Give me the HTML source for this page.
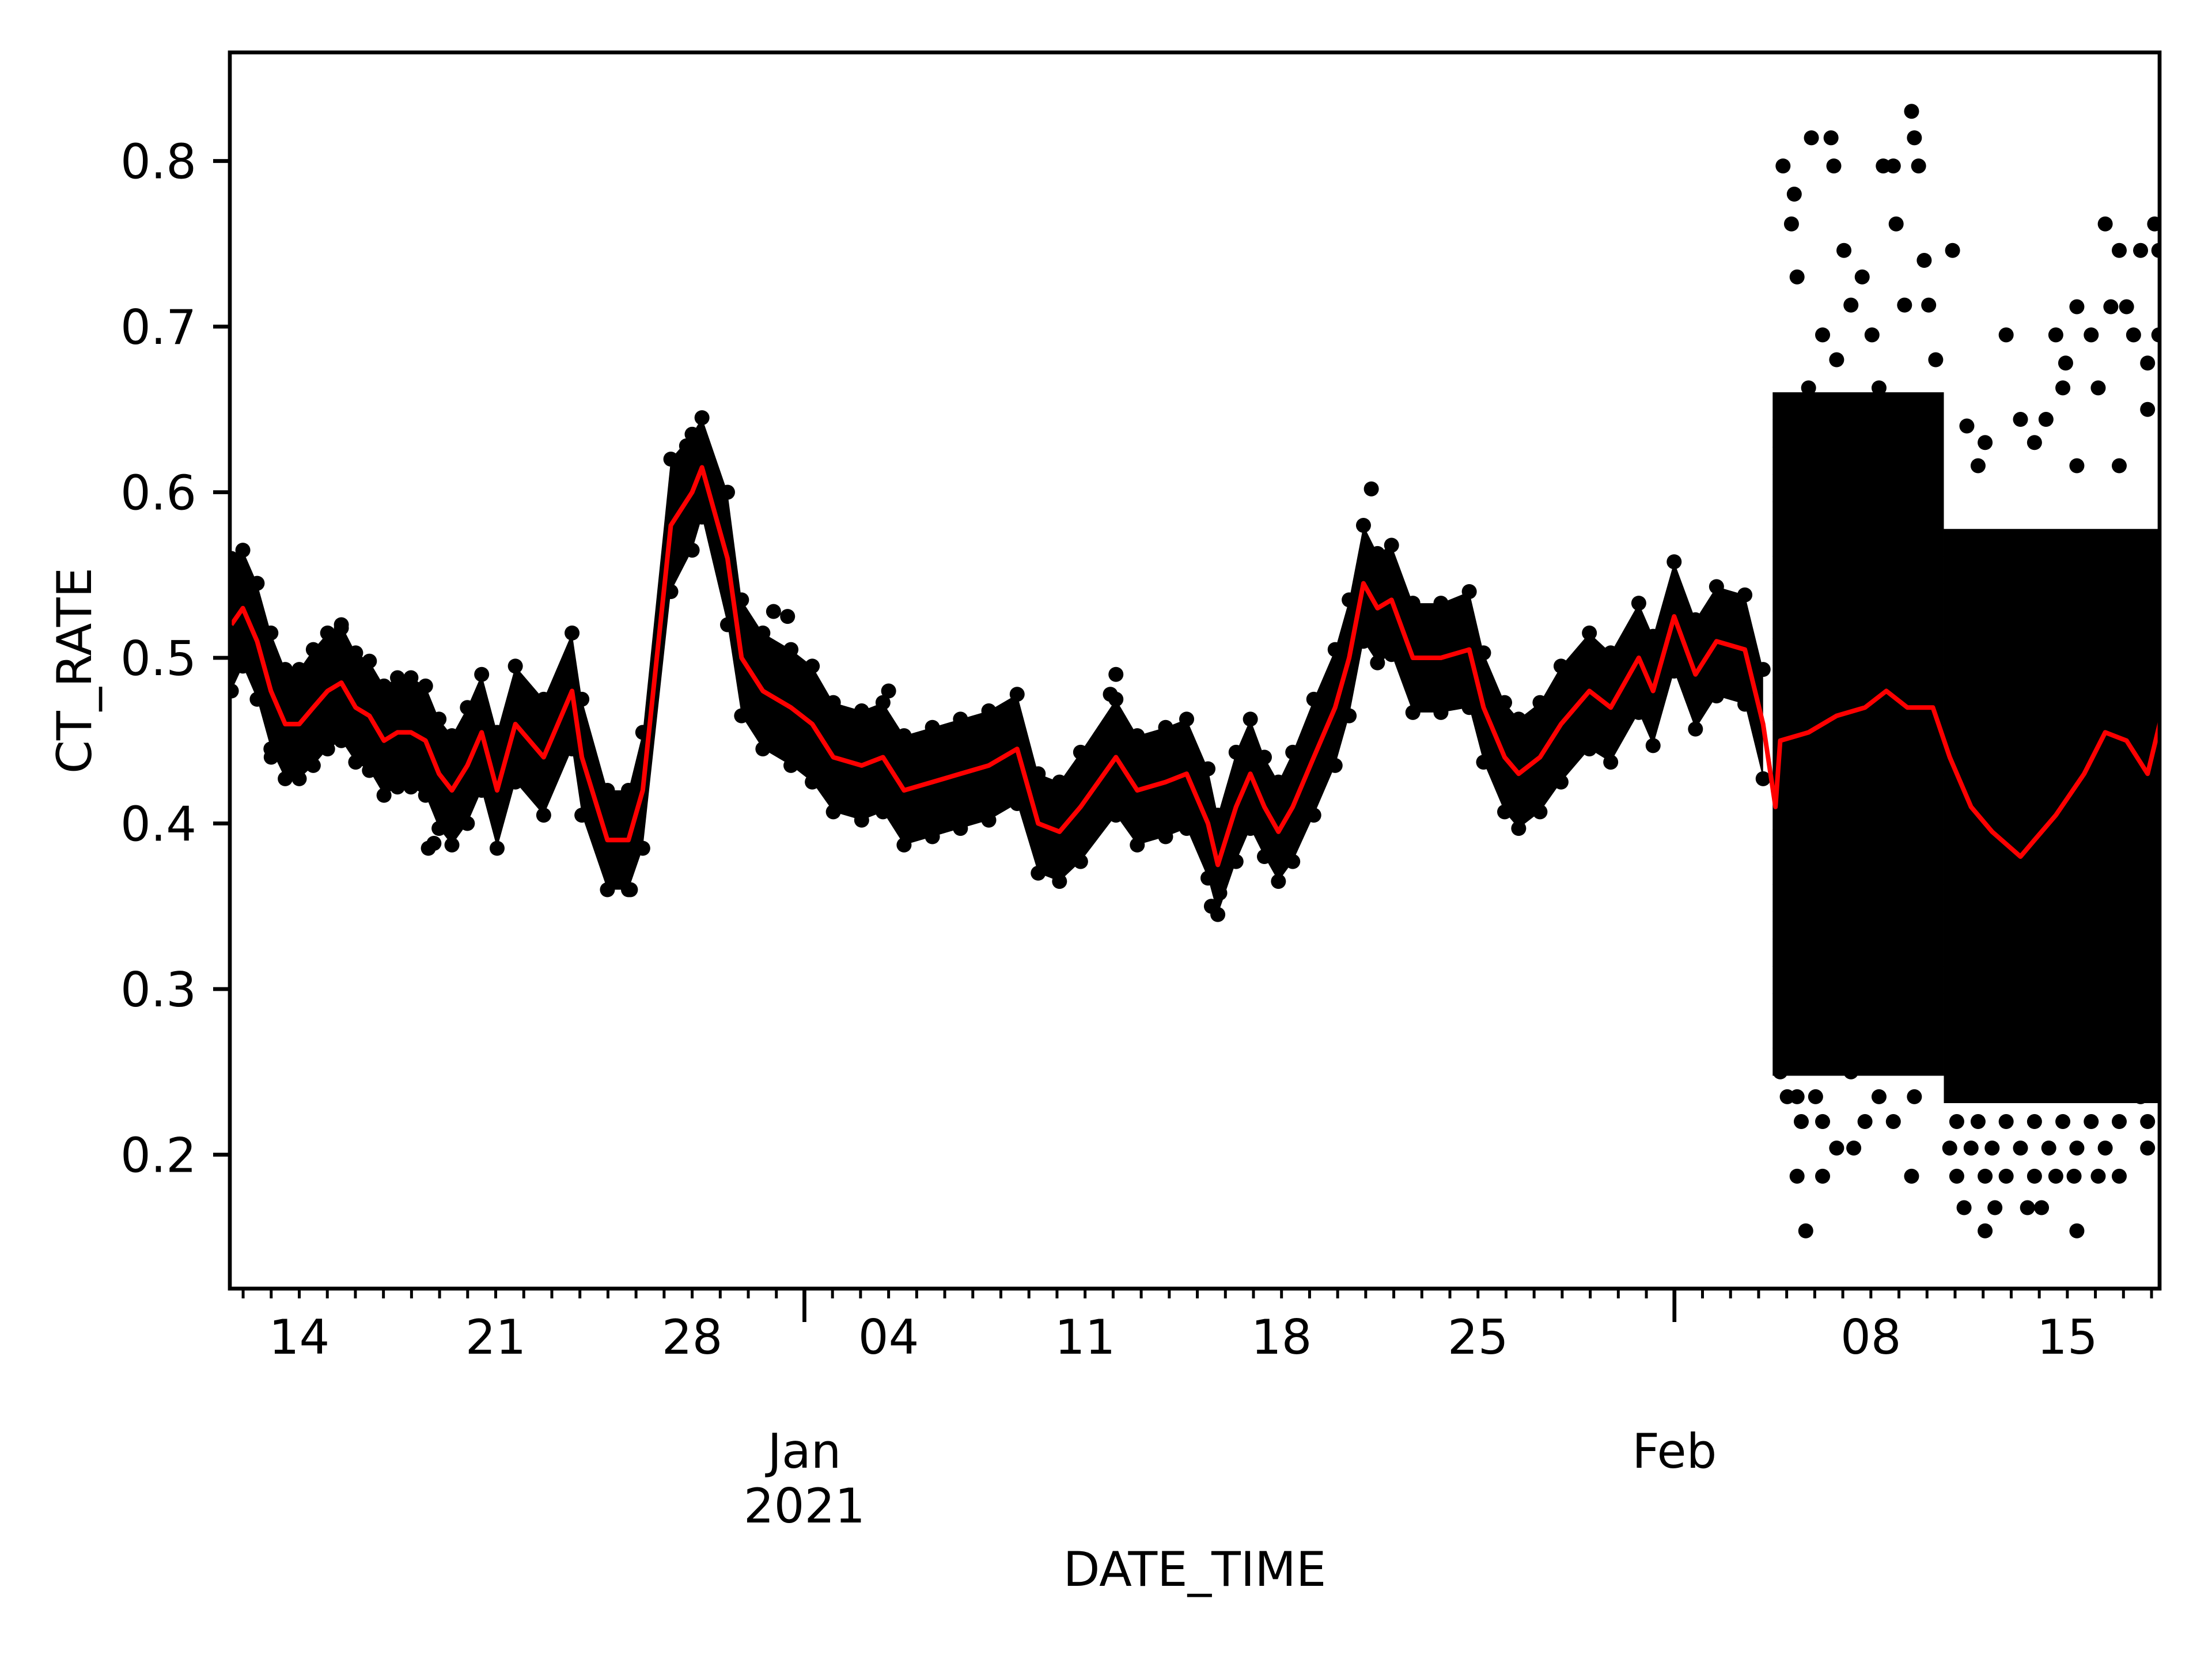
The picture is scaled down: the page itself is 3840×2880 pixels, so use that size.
<!DOCTYPE html>
<html><head><meta charset="utf-8"><style>
html,body{margin:0;padding:0;background:#fff;}
svg{display:block;}
text{font-family:"DejaVu Sans","Liberation Sans",sans-serif;fill:#000;}
</style></head><body>
<svg id="chart" width="3840" height="2880" viewBox="0 0 3840 2880" xmlns="http://www.w3.org/2000/svg">
<rect x="0" y="0" width="3840" height="2880" fill="#fff"/>
<defs><clipPath id="plotclip"><rect x="399" y="91" width="3350" height="2146"/></clipPath></defs>
<g id="plot" clip-path="url(#plotclip)"></g>
<g id="axes"></g>
</svg>
<script>
// ---- data (day number counted from Dec 0, 2020: Dec 14 = 14, Jan 1 = 32, Feb 1 = 63) ----
const meanDays = [11.58,11.99,12.5,12.99,13.5,14,14.5,15.01,15.5,16.01,16.5,17.02,17.5,17.98,18.5,18.98,19.44,19.99,20.5,21.05,21.7,22.71,23.72,24.07,24.98,25.73,26.24,27.24,28.0,28.35,29.26,29.76,30.52,31.52,32.28,33.03,34.04,34.8,35.55,36.56,37.56,38.57,39.58,40.33,41.09,41.84,43.1,43.86,44.87,45.62,46.38,46.73,47.38,47.89,48.39,48.89,49.4,50.15,50.91,51.41,51.92,52.42,52.92,53.68,54.68,55.69,56.2,56.95,57.45,58.21,58.96,59.97,60.73,61.73,62.24,62.99,63.75,64.5,65.51,66.16,66.6,66.77,67.78,68.78,69.79,70.55,71.3,72.21,72.81,73.57,74.32,75.33,75.83,76.59,77.6,78.35,79.11,79.86,80.36];
const meanValues = [0.52,0.53,0.51,0.48,0.46,0.46,0.47,0.48,0.485,0.47,0.465,0.45,0.455,0.455,0.45,0.43,0.42,0.435,0.455,0.42,0.46,0.44,0.48,0.44,0.39,0.39,0.42,0.58,0.6,0.615,0.56,0.5,0.48,0.47,0.46,0.44,0.435,0.44,0.42,0.425,0.43,0.435,0.445,0.4,0.395,0.41,0.44,0.42,0.425,0.43,0.4,0.375,0.41,0.43,0.41,0.395,0.41,0.44,0.47,0.5,0.545,0.53,0.535,0.5,0.5,0.505,0.47,0.44,0.43,0.44,0.46,0.48,0.47,0.5,0.48,0.525,0.49,0.51,0.505,0.46,0.41,0.45,0.455,0.465,0.47,0.48,0.47,0.47,0.44,0.41,0.395,0.38,0.39,0.405,0.43,0.455,0.45,0.43,0.465];
const bandSpread = [0.04,0.035,0.035,0.035,0.033,0.033,0.035,0.035,0.035,0.033,0.033,0.033,0.033,0.033,0.033,0.033,0.033,0.035,0.035,0.035,0.035,0.035,0.035,0.035,0.03,0.03,0.035,0.04,0.035,0.03,0.04,0.035,0.035,0.035,0.035,0.033,0.033,0.033,0.033,0.033,0.033,0.033,0.033,0.03,0.03,0.033,0.035,0.033,0.033,0.033,0.033,0.03,0.033,0.033,0.03,0.03,0.033,0.035,0.035,0.035,0.035,0.033,0.033,0.033,0.033,0.035,0.033,0.033,0.033,0.033,0.035,0.035,0.033,0.033,0.033,0.033,0.033,0.033,0.033,0.033,0,0,0,0,0,0,0,0,0,0,0,0,0,0,0,0,0,0,0];
const outlierDays = [28.0,27.8,28.3,52.2,43.1,42.9,18.6,18.8,46.5,46.8,25.8,25.3,30.9,31.4,15.5,35.0,13.0,
 66.87,67.17,67.27,67.37,67.88,68.58,68.68,69.04,69.29,69.69,70.44,70.8,70.9,71.45,71.55,71.7,71.2,72.06,72.91,71.9,68.28,68.78,70.04,72.31,67.78,70.29,71.05,71.8,
 73.42,74.07,74.82,75.33,75.83,76.24,76.59,76.94,77.34,77.85,78.35,78.55,78.85,79.11,79.36,79.61,80.11,80.26,79.86,80.26,76.84,78.1,73.82,77.34,78.85,79.86,
 66.77,67.02,67.37,68.03,67.52,68.28,68.78,69.39,69.79,70.8,71.55,67.37,68.28,71.45,67.68,69.29,70.29,
 73.06,73.82,74.82,75.83,76.84,77.85,78.85,79.86,72.81,73.57,74.32,75.33,76.34,77.34,78.35,73.06,74.07,74.82,75.83,76.59,77.24,78.1,78.85,73.32,74.42,75.58,76.08,74.07,77.34,79.86,79.61];
const outlierValues = [0.635,0.628,0.632,0.602,0.49,0.478,0.385,0.388,0.35,0.358,0.36,0.365,0.528,0.525,0.518,0.48,0.44,
 0.797,0.762,0.78,0.73,0.814,0.814,0.797,0.746,0.713,0.73,0.797,0.797,0.762,0.83,0.814,0.797,0.713,0.713,0.746,0.74,0.695,0.68,0.695,0.68,0.663,0.663,0.65,0.65,
 0.64,0.63,0.695,0.644,0.63,0.644,0.695,0.678,0.712,0.695,0.762,0.712,0.746,0.712,0.695,0.746,0.762,0.746,0.678,0.695,0.663,0.663,0.616,0.616,0.616,0.65,
 0.25,0.235,0.235,0.235,0.22,0.22,0.204,0.204,0.22,0.22,0.235,0.187,0.187,0.187,0.154,0.25,0.235,
 0.22,0.22,0.22,0.22,0.22,0.22,0.22,0.22,0.204,0.204,0.204,0.204,0.204,0.204,0.204,0.187,0.187,0.187,0.187,0.187,0.187,0.187,0.187,0.168,0.168,0.168,0.168,0.154,0.154,0.204,0.235];
const febBandStart = [66.5,72.6];
const febBandEnd = [72.6,80.5];
const febBandLow = [0.245,0.23];
const febBandHigh = [0.655,0.585];
const febLevelStep = 0.0165;
const febLevelBase = 0.157;
const yTicks = [0.2,0.3,0.4,0.5,0.6,0.7,0.8];
const yTickLabels = ["0.2","0.3","0.4","0.5","0.6","0.7","0.8"];
const xTickDays = [14,21,28,35,42,49,56,70,77];
const xTickLabels = ["14","21","28","04","11","18","25","08","15"];
const monthDays = [32,63];
const monthLabels = [["Jan","2021"],["Feb"]];

// ---- scales ----
const X0=399,X1=3749,Y0=91,Y1=2237;
function xs(d){return 519.5+(d-14)*48.72;}
function ys(v){return 279.5+(0.8-v)*2875;}
const NS="http://www.w3.org/2000/svg";
function mk(tag,attrs,parent){const e=document.createElementNS(NS,tag);for(const k in attrs)e.setAttribute(k,attrs[k]);parent.appendChild(e);return e;}
const plot=document.getElementById('plot'), axes=document.getElementById('axes');

const early=[];for(let i=0;i<meanDays.length;i++) if(bandSpread[i]>0) early.push(i);
let pts=early.map(i=>xs(meanDays[i])+','+ys(meanValues[i]+bandSpread[i]));
pts=pts.concat(early.slice().reverse().map(i=>xs(meanDays[i])+','+ys(meanValues[i]-bandSpread[i])));
const band=mk('polygon',{points:pts.join(' '),fill:'#000'},plot);


early.forEach(i=>{
  [1,-1].forEach(s=>{
    const c=mk('circle',{cx:xs(meanDays[i]),cy:ys(meanValues[i]+s*bandSpread[i]),r:13,fill:'#000'},plot);
    
    
  });
});
for(let b=0;b<febBandStart.length;b++){
  for(let k=0;k<60;k++){
    const lv=febLevelBase+k*febLevelStep;
    if(lv<febBandLow[b]||lv>febBandHigh[b]) continue;
    const l=mk('line',{x1:xs(febBandStart[b]),x2:xs(febBandEnd[b]),y1:ys(lv),y2:ys(lv),stroke:'#000','stroke-width':48},plot);
    
    
  }
}
for(let i=0;i<outlierDays.length;i++){
  const c=mk('circle',{cx:xs(outlierDays[i]),cy:ys(outlierValues[i]),r:13,fill:'#000'},plot);
  
  
}
const line=mk('polyline',{points:meanDays.map((d,i)=>xs(d)+','+ys(meanValues[i])).join(' '),fill:'none',stroke:'#ff0000','stroke-width':8,'stroke-linejoin':'round'},plot);



const fr=mk('rect',{x:X0,y:Y0,width:X1-X0,height:Y1-Y0,fill:'none',stroke:'#000','stroke-width':6.7},axes);


yTicks.forEach((v,i)=>{
  const t=mk('line',{x1:X0-29,x2:X0,y1:ys(v),y2:ys(v),stroke:'#000','stroke-width':6.7},axes);
  
  
  const tx=mk('text',{x:X0-58,y:ys(v)+30,'font-size':83,'text-anchor':'end'},axes);
  tx.textContent=yTickLabels[i];
  
  
});
for(let d=12;d<=80;d++){
  const major=monthDays.indexOf(d)>=0;
  const t=mk('line',{x1:xs(d),x2:xs(d),y1:Y1,y2:Y1+(major?58:17),stroke:'#000','stroke-width':major?6.7:5},axes);
  
  
}
xTickDays.forEach((d,i)=>{
  const tx=mk('text',{x:xs(d),y:2350,'font-size':83,'text-anchor':'middle'},axes);
  tx.textContent=xTickLabels[i];
  
  
});
monthDays.forEach((d,i)=>{
  monthLabels[i].forEach((s,j)=>{
    const tx=mk('text',{x:xs(d),y:2548+j*95,'font-size':83,'text-anchor':'middle'},axes);
    tx.textContent=s;
    
    
  });
});
const xt=mk('text',{x:2074,y:2753,'font-size':83,'text-anchor':'middle'},axes);
xt.textContent='DATE_TIME';


const yt=mk('text',{x:0,y:0,'font-size':83,'text-anchor':'middle',transform:'translate(158,1164) rotate(-90)'},axes);
yt.textContent='CT_RATE';


</script>
</body></html>
